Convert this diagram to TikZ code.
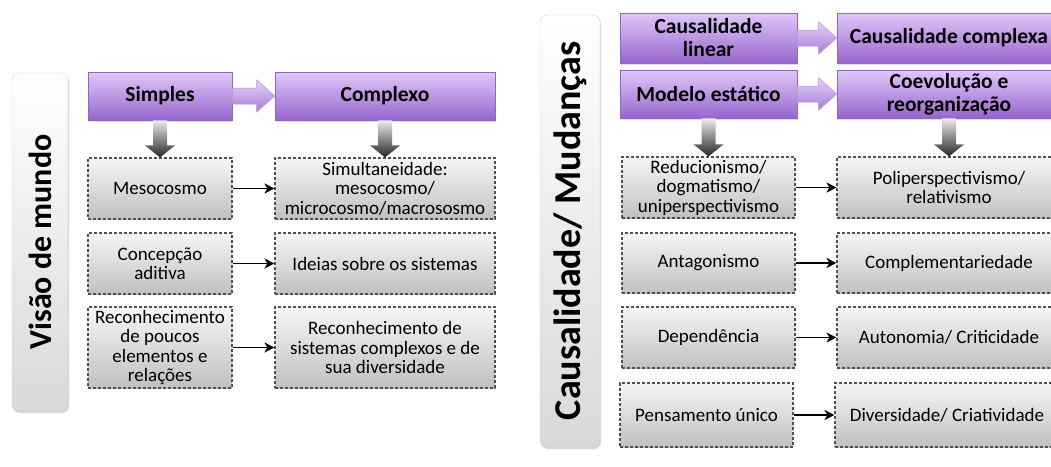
\documentclass[tikz,border=0pt]{standalone}
\usepackage{fontspec}
\setmainfont{Carlito}
\usetikzlibrary{calc,shadows,arrows.meta}

\definecolor{purpletop}{RGB}{224,200,250}
\definecolor{purplebot}{RGB}{150,102,204}
\definecolor{purpleline}{RGB}{145,100,195}
\definecolor{graytop}{RGB}{246,246,246}
\definecolor{graybot}{RGB}{192,192,192}
\definecolor{dashline}{RGB}{80,80,80}

\tikzset{
  sidebox/.style={draw=gray!40, rounded corners=7pt, top color=white, bottom color=gray!30,
    drop shadow={opacity=0.3, shadow xshift=1pt, shadow yshift=-2pt}},
  sidetext/.style={rotate=90, font=\bfseries\fontsize{32}{34}\selectfont},
  headbox/.style={draw=purpleline, line width=0.6pt, top color=purpletop, bottom color=purplebot,
    align=center, inner sep=0pt, font=\bfseries\fontsize{21.5}{23}\selectfont,
    drop shadow={opacity=0.25, shadow xshift=1pt, shadow yshift=-1.5pt}},
  itembox/.style={draw=dashline, dash pattern=on 3pt off 2pt, line width=1.1pt, top color=graytop,
    bottom color=graybot, align=center, inner sep=0pt, font=\fontsize{19}{19.5}\selectfont},
  thinarrow/.style={-{Stealth[length=10pt,width=10pt,inset=3pt]}, line width=1.8pt, black},
  downarrow/.style={top color=gray!15, bottom color=black!85},
  sidearrow/.style={top color=purpletop!85!white, bottom color=purplebot!85!white, draw=purpleline!70, line width=0.5pt},
}

% fat arrows between boxes
\newcommand{\downblock}[2]{%
  \path[downarrow] ($(#1.south)+(-7,0)$) -- ($(#2.north)+(-7,-12)$) -- ($(#2.north)+(-15,-12)$)
    -- (#2.north) -- ($(#2.north)+(15,-12)$) -- ($(#2.north)+(7,-12)$) -- ($(#1.south)+(7,0)$) -- cycle;}
\newcommand{\rightblock}[2]{%
  \path[sidearrow] ($(#1.east)+(0,-8)$) -- ($(#2.west)+(-18,-8)$) -- ($(#2.west)+(-18,-16)$)
    -- (#2.west) -- ($(#2.west)+(-18,16)$) -- ($(#2.west)+(-18,8)$) -- ($(#1.east)+(0,8)$) -- cycle;}

\begin{document}
\begin{tikzpicture}[x=1pt, y=-1pt]
    \fill[white] (0,0) rectangle (1051,466);
    \useasboundingbox (0,0) rectangle (1051,466);

    % Visao de mundo
    \node[sidebox, minimum width=56pt, minimum height=338pt] (vis) at (40,242) {};
    \node[sidetext] (vislabel) at (vis) {Visão de mundo};

    \node[headbox, minimum width=144pt, minimum height=48pt] (simples) at (160,96) {Simples};
    \node[headbox, minimum width=220pt, minimum height=48pt] (complexo) at (385,96) {Complexo};

    \node[itembox, minimum width=144pt, minimum height=61pt] (meso) at (160,188.5) {Mesocosmo};
    \node[itembox, minimum width=220pt, minimum height=61pt] (simult) at (385,188.5) {Simultaneidade:\\mesocosmo/\\microcosmo/macrososmo};
    \node[itembox, minimum width=144pt, minimum height=61pt] (concep) at (160,263.5) {Concepção\\aditiva};
    \node[itembox, minimum width=220pt, minimum height=61pt] (ideias) at (385,263.5) {Ideias sobre os sistemas};
    \node[itembox, minimum width=144pt, minimum height=81pt] (recpoucos) at (160,347.5) {Reconhecimento\\de poucos\\elementos e\\relações};
    \node[itembox, minimum width=220pt, minimum height=81pt] (recsist) at (385,347.5) {Reconhecimento de\\sistemas complexos e de\\sua diversidade};

    \rightblock{simples}{complexo}
    \downblock{simples}{meso}
    \downblock{complexo}{simult}
    \draw[thinarrow] (meso) -- (simult);
    \draw[thinarrow] (concep) -- (ideias);
    \draw[thinarrow] (recpoucos) -- (recsist);

    % Causalidade/ Mudancas
    \node[sidebox, minimum width=60pt, minimum height=432pt] (caus) at (570,231) {};
    \node[sidetext, font=\bfseries\fontsize{38}{40}\selectfont] (causlabel) at (caus) {Causalidade/ Mudanças};

    \node[headbox, minimum width=177pt, minimum height=50pt] (linear) at (708.5,38) {Causalidade\\linear};
    \node[headbox, minimum width=224pt, minimum height=50pt] (cplx) at (949,38) {Causalidade complexa};
    \node[headbox, minimum width=177pt, minimum height=48pt] (estatico) at (708.5,94) {Modelo estático};
    \node[headbox, minimum width=224pt, minimum height=48pt] (coevol) at (949,94) {Coevolução e\\reorganização};

    \node[itembox, minimum width=173pt, minimum height=61pt] (reduc) at (708.5,187.5) {Reducionismo/\\dogmatismo/\\uniperspectivismo};
    \node[itembox, minimum width=224pt, minimum height=61pt] (polip) at (949,187.5) {Poliperspectivismo/\\relativismo};
    \node[itembox, minimum width=173pt, minimum height=60pt] (antag) at (708.5,263) {Antagonismo};
    \node[itembox, minimum width=224pt, minimum height=60pt] (compl) at (949,263) {Complementariedade};
    \node[itembox, minimum width=173pt, minimum height=61pt] (depend) at (708.5,337.5) {Dependência};
    \node[itembox, minimum width=224pt, minimum height=61pt] (auton) at (949,337.5) {Autonomia/ Criticidade};
    \node[itembox, minimum width=173pt, minimum height=64pt] (pensam) at (706.5,415) {Pensamento único};
    \node[itembox, minimum width=224pt, minimum height=64pt] (divers) at (947,415) {Diversidade/ Criatividade};

    \rightblock{linear}{cplx}
    \rightblock{estatico}{coevol}
    \downblock{estatico}{reduc}
    \downblock{coevol}{polip}
    \draw[thinarrow] (reduc) -- (polip);
    \draw[thinarrow] (antag) -- (compl);
    \draw[thinarrow] (depend) -- (auton);
    \draw[thinarrow] (pensam) -- (divers);
\end{tikzpicture}
\end{document}
